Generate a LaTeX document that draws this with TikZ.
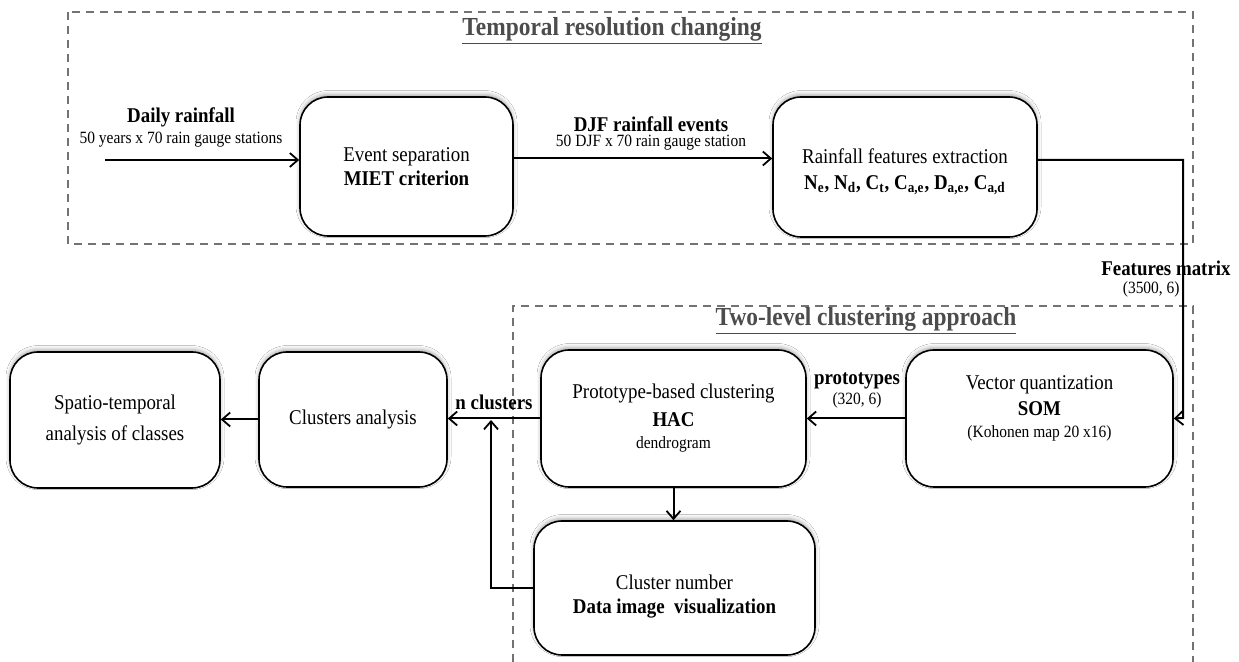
\documentclass[tikz,border=0pt]{standalone}
\usepackage{fontspec}
\setmainfont[FakeStretch=0.9]{Liberation Serif}
\usetikzlibrary{arrows.meta,shadows.blur}
\begin{document}
\begin{tikzpicture}[x=0.5pt,y=-0.5pt,
  box/.style={draw, line width=0.8pt, rounded corners=14pt, fill=white, align=center, inner sep=0pt,
    font=\fontsize{10.5pt}{12pt}\selectfont,
    blur shadow={shadow xshift=0pt, shadow yshift=1.2pt, shadow blur radius=2pt, shadow opacity=35}},
  intext/.style={align=center, inner sep=0pt, font=\fontsize{10.5pt}{12pt}\selectfont},
  arr/.style={line width=1pt, -{Straight Barb[length=4pt,width=7pt,line width=0.9pt]}},
  dbox/.style={draw=black!55, line width=0.7pt, dash pattern=on 4pt off 3pt},
  lab/.style={font=\fontsize{10.5pt}{12pt}\selectfont\bfseries, inner sep=0pt},
  sub/.style={font=\fontsize{8.6pt}{10pt}\selectfont, inner sep=0pt},
  ttl/.style={font=\fontsize{13pt}{15pt}\selectfont\bfseries, text=black!70, inner sep=0pt}
]
\useasboundingbox[fill=white] (0,0) rectangle (1239,662);

% dashed groups
\draw[dbox] (68,12) rectangle (1193,244);
\draw[dbox] (513,662) -- (513,306) -- (1193,306) -- (1193,662);
\node[ttl] (t1) at (612,31) {\underline{Temporal resolution changing}};
\node[ttl] (t2) at (866,321) {\underline{Two-level clustering approach}};

% boxes
\node[box, minimum width=106.5pt, minimum height=69.5pt] (ev) at (406.5,166.5)
  {Event separation\\ \textbf{MIET criterion}};
\node[box, minimum width=132pt, minimum height=70pt,
  label={[intext, yshift=-2.5pt]center:{Rainfall features extraction\\[1pt] \textbf{N\textsubscript{e}, N\textsubscript{d}, C\textsubscript{t}, C\textsubscript{a,e}, D\textsubscript{a,e}, C\textsubscript{a,d}}}}] (fe) at (905,167) {};
\node[box, minimum width=133.5pt, minimum height=68.5pt] (som) at (1039.5,418.5)
  {Vector quantization\\[1pt] \textbf{SOM}\\[-1pt] {\fontsize{8.6pt}{10pt}\selectfont (Kohonen map 20 x16)}\\};
\node[box, minimum width=132.5pt, minimum height=68.5pt] (hac) at (673.5,418.5)
  {Prototype-based clustering\\[2pt] \textbf{HAC}\\[-1pt] {\fontsize{8.6pt}{10pt}\selectfont dendrogram}};
\node[box, minimum width=140.5pt, minimum height=67pt,
  label={[intext, yshift=-4.5pt]center:{Cluster number\\ \textbf{Data image\ \ visualization}}}] (div) at (674.5,588) {};
\node[box, minimum width=94pt, minimum height=67.5pt] (ca) at (353,419.5)
  {Clusters analysis};
\node[box, minimum width=105pt, minimum height=68pt] (sp) at (115,420)
  {Spatio-temporal\\[3.5pt] analysis of classes};

% labels
\node[lab] (l1) at (181,117) {Daily rainfall};
\node[sub] (l1s) at (181,140) {50 years x 70 rain gauge stations};
\node[lab] (l2) at (651,124) {DJF rainfall events};
\node[sub] (l2s) at (651,143) {50 DJF x 70 rain gauge station};
\node[lab, anchor=east] (l3) at (1231,268) {Features matrix};
\node[sub, anchor=east] (l3s) at (1180,289) {(3500, 6)};
\node[lab] (l4) at (857,381) {prototypes};
\node[sub] (l4s) at (857,400) {(320, 6)};
\node[lab] (l5) at (494,402) {n clusters};

% connectors
\coordinate (in) at (105,160);
\coordinate (fm) at (1183,418);
\coordinate (j) at (491,420);
\draw[arr] (in) -- (in -| ev.west);
\draw[arr] ([yshift=4pt]ev.east) -- ([yshift=4pt]ev.east -| fe.west);
\draw[arr] ([yshift=3.5pt]fe.east) -| (fm) -- (som.east);
\draw[arr] (som.west) -- (som.west -| hac.east);
\draw[arr] (hac.south) -- (hac.south |- div.north);
\draw[arr] (hac.west) -- (hac.west -| ca.east);
\draw[arr] (div.west) -| (j);
\draw[arr] (ca.west) -- (ca.west -| sp.east);
\end{tikzpicture}
\end{document}
